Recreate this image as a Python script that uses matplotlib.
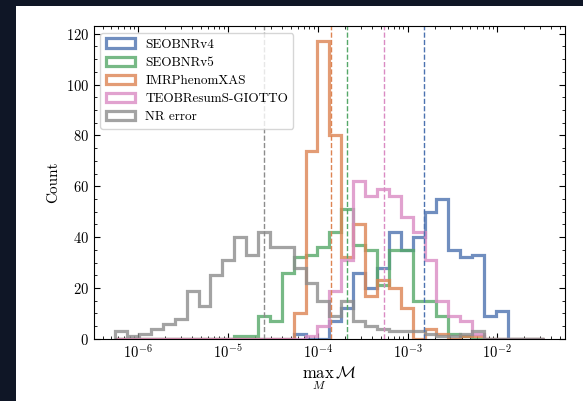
import matplotlib
matplotlib.use("Agg")
import matplotlib.pyplot as plt
import numpy as np
from matplotlib.patches import Rectangle
from matplotlib.ticker import AutoMinorLocator

plt.rcParams["font.family"] = "serif"
plt.rcParams["font.serif"] = ["cmr10", "DejaVu Serif"]
plt.rcParams["mathtext.fontset"] = "cm"
plt.rcParams["axes.formatter.use_mathtext"] = True

# shared log bins (36 bins)
log_lo, log_hi, n_bins = -6.256, -1.486, 36
edges = np.logspace(log_lo, log_hi, n_bins + 1)
centers = np.sqrt(edges[:-1] * edges[1:])

labels = ["SEOBNRv4", "SEOBNRv5", "IMRPhenomXAS", "TEOBResumS-GIOTTO", "NR error"]
colors = ["#4C72B0", "#55A868", "#DD8452", "#DA8BC3", "#8C8C8C"]

# counts per bin
counts_v4 = [0] * 15 + [2, 0, 0, 7, 12, 26, 20, 28, 42, 35, 40, 50, 55, 35, 32, 33, 9, 11] + [0] * 3
counts_v5 = [0] * 10 + [1, 1, 9, 7, 26, 32, 33, 36, 42, 51, 37, 35, 21, 35, 35, 15, 15, 9, 2, 1] + [0] * 6
counts_xas = [0] * 15 + [10, 74, 117, 80, 32, 45, 17, 23, 20, 12, 0, 4, 2, 0, 1, 1] + [0] * 5
counts_teob = [0] * 16 + [1, 5, 19, 31, 62, 56, 59, 56, 48, 42, 31, 15, 9, 7, 2] + [0] * 5
counts_nr = [3, 1, 2, 4, 6, 8, 19, 13, 25, 31, 40, 33, 42, 36, 36, 28, 22, 15, 9, 15,
             7, 5, 4, 3, 3, 3, 2, 1, 1, 2, 3] + [0] * 5

# dashed reference lines (medians)
medians = [1.52e-3, 2.14e-4, 1.40e-4, 5.47e-4, 2.49e-5]

all_counts = [counts_v4, counts_v5, counts_xas, counts_teob, counts_nr]

fig = plt.figure(figsize=(5.83, 4.01), dpi=100, facecolor="#0f1626")
fig.add_artist(Rectangle((16 / 583, 0), 1, 395 / 401, transform=fig.transFigure,
                         facecolor="white", edgecolor="none", zorder=0))
ax = fig.add_axes([0.161, 0.155, 0.808, 0.779])

for c, col, lab in zip(all_counts, colors, labels):
    ax.hist(centers, bins=edges, weights=c, histtype="step", lw=2.3,
            color=col, alpha=0.8, label=lab)
for m, col in zip(medians, colors):
    ax.axvline(m, color=col, ls="--", lw=1.0)

ax.set_xscale("log")
ax.set_xlim(10 ** -6.4945, 10 ** -1.2475)
ax.set_ylim(0, 122.85)
ax.yaxis.set_minor_locator(AutoMinorLocator(4))
ax.tick_params(which="both", direction="in", top=True, right=True, labelsize=10.5)
ax.tick_params(which="major", length=4)
ax.tick_params(which="minor", length=2)
for s in ax.spines.values():
    s.set_linewidth(0.8)

ax.set_xlabel(r"$\max_{M}\,\mathcal{M}$", fontsize=12, labelpad=2)
ax.set_ylabel("Count", fontsize=11)
ax.legend(loc="upper left", fontsize=9.5, framealpha=0.8, handlelength=2.2,
          labelspacing=0.45)

fig.savefig("out.png", dpi=100, facecolor=fig.get_facecolor())
